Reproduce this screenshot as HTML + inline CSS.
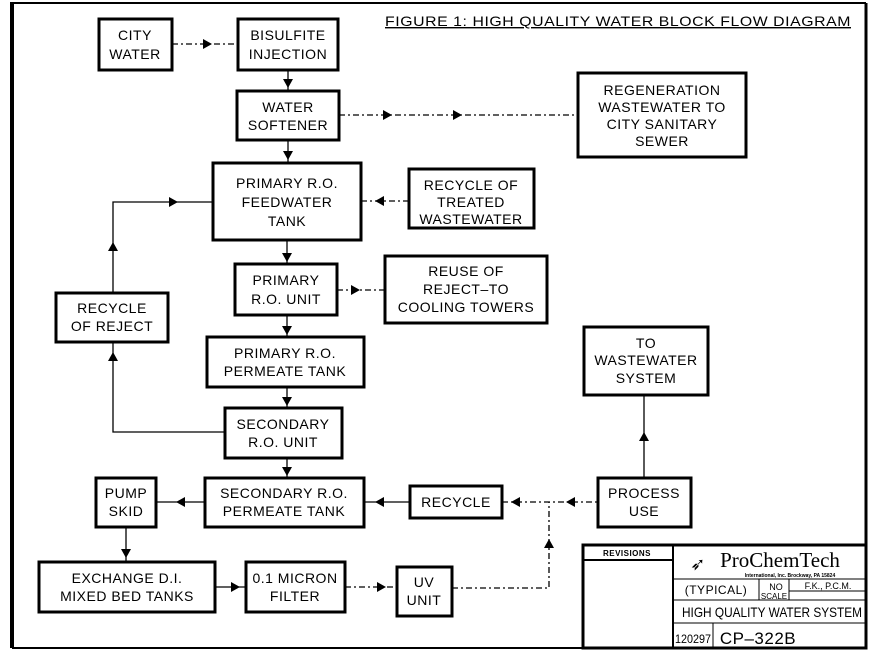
<!DOCTYPE html>
<html><head><style>
body{margin:0;background:#fff}
svg{display:block}
text{font-family:"Liberation Sans",sans-serif;font-size:14px;fill:#000;text-anchor:middle;letter-spacing:0.5px}
.b{fill:#fff;stroke:#000;stroke-width:3}
.l{stroke:#000;stroke-width:1.3;fill:none}
.d{stroke:#000;stroke-width:1.3;fill:none;stroke-dasharray:6 3 2 3}
</style></head><body>
<svg width="871" height="651" viewBox="0 0 871 651">
<defs>
<g id="ar"><polygon points="0,0 -9,-5 -9,5" fill="#000"/></g>
</defs>
<rect x="0" y="0" width="871" height="651" fill="#fff"/>
<line x1="12" y1="2" x2="12" y2="648" stroke="#000" stroke-width="4"/>
<line x1="12" y1="3" x2="866" y2="3" stroke="#000" stroke-width="2"/>
<line x1="866" y1="3" x2="866" y2="648" stroke="#000" stroke-width="3"/>
<line x1="12" y1="648" x2="866" y2="648" stroke="#000" stroke-width="2"/>
<text x="618" y="26" textLength="466" lengthAdjust="spacingAndGlyphs" style="font-size:14px;text-decoration:underline">FIGURE 1: HIGH QUALITY WATER BLOCK FLOW DIAGRAM</text>

<!-- connectors -->
<line class="d" x1="172" y1="44" x2="238" y2="44"/><use href="#ar" x="212" y="44"/>
<line class="l" x1="288" y1="70" x2="288" y2="91"/><use href="#ar" transform="translate(288,88) rotate(90)"/>
<line class="d" x1="339" y1="115" x2="578" y2="115"/><use href="#ar" x="392" y="115"/><use href="#ar" x="462" y="115"/>
<line class="l" x1="288" y1="140" x2="288" y2="163"/><use href="#ar" transform="translate(288,160) rotate(90)"/>
<line class="d" x1="361" y1="201" x2="409" y2="201"/><use href="#ar" transform="translate(375,201) rotate(180)"/>
<line class="l" x1="287" y1="240" x2="287" y2="264"/><use href="#ar" transform="translate(287,262) rotate(90)"/>
<line class="d" x1="337" y1="290" x2="385" y2="290"/><use href="#ar" x="360" y="290"/>
<line class="l" x1="287" y1="315" x2="287" y2="337"/><use href="#ar" transform="translate(287,335) rotate(90)"/>
<line class="l" x1="287" y1="387" x2="287" y2="408"/><use href="#ar" transform="translate(287,406) rotate(90)"/>
<line class="l" x1="287" y1="458" x2="287" y2="478"/><use href="#ar" transform="translate(287,476) rotate(90)"/>
<polyline class="l" points="225,432 113,432 113,342"/><use href="#ar" transform="translate(113,352) rotate(-90)"/>
<polyline class="l" points="113,293 113,202 213,202"/><use href="#ar" transform="translate(113,242) rotate(-90)"/><use href="#ar" x="178" y="202"/>
<line class="l" x1="156" y1="502" x2="205" y2="502"/><use href="#ar" transform="translate(176,502) rotate(180)"/>
<line class="l" x1="364" y1="502" x2="410" y2="502"/><use href="#ar" transform="translate(375,502) rotate(180)"/>
<line class="d" x1="502" y1="502" x2="598" y2="502"/><use href="#ar" transform="translate(511,502) rotate(180)"/><use href="#ar" transform="translate(566,502) rotate(180)"/>
<polyline class="d" points="452,588 549,588 549,502"/><use href="#ar" transform="translate(549,539) rotate(-90)"/>
<line class="l" x1="126" y1="527" x2="126" y2="562"/><use href="#ar" transform="translate(126,558) rotate(90)"/>
<line class="l" x1="215" y1="587" x2="246" y2="587"/><use href="#ar" x="240" y="587"/>
<line class="d" x1="345" y1="587" x2="397" y2="587"/><use href="#ar" x="386" y="587"/>
<line class="l" x1="644" y1="478" x2="644" y2="395"/><use href="#ar" transform="translate(644,432) rotate(-90)"/>

<!-- boxes -->
<rect class="b" x="99" y="19" width="73" height="51"/><text x="135" y="40">CITY</text><text x="135" y="59">WATER</text>
<rect class="b" x="238" y="19" width="100" height="51"/><text x="288" y="40">BISULFITE</text><text x="288" y="59">INJECTION</text>
<rect class="b" x="237" y="91" width="102" height="49"/><text x="288" y="112">WATER</text><text x="288" y="130">SOFTENER</text>
<rect class="b" x="578" y="73" width="168" height="84"/><text x="662" y="95">REGENERATION</text><text x="662" y="112">WASTEWATER TO</text><text x="662" y="129">CITY SANITARY</text><text x="662" y="146">SEWER</text>
<rect class="b" x="213" y="163" width="148" height="77"/><text x="287" y="188">PRIMARY R.O.</text><text x="287" y="207">FEEDWATER</text><text x="287" y="226">TANK</text>
<rect class="b" x="409" y="169" width="125" height="59"/><text x="471" y="190">RECYCLE OF</text><text x="471" y="207">TREATED</text><text x="471" y="224">WASTEWATER</text>
<rect class="b" x="235" y="264" width="102" height="51"/><text x="286" y="285">PRIMARY</text><text x="286" y="304">R.O. UNIT</text>
<rect class="b" x="385" y="256" width="162" height="67"/><text x="466" y="276">REUSE OF</text><text x="466" y="294">REJECT–TO</text><text x="466" y="312">COOLING TOWERS</text>
<rect class="b" x="56" y="293" width="112" height="49"/><text x="112" y="313">RECYCLE</text><text x="112" y="331">OF REJECT</text>
<rect class="b" x="207" y="337" width="157" height="50"/><text x="285" y="358">PRIMARY R.O.</text><text x="285" y="376">PERMEATE TANK</text>
<rect class="b" x="584" y="327" width="124" height="68"/><text x="646" y="348">TO</text><text x="646" y="365">WASTEWATER</text><text x="646" y="383">SYSTEM</text>
<rect class="b" x="225" y="408" width="117" height="50"/><text x="283" y="429">SECONDARY</text><text x="283" y="447">R.O. UNIT</text>
<rect class="b" x="96" y="478" width="60" height="49"/><text x="126" y="498">PUMP</text><text x="126" y="516">SKID</text>
<rect class="b" x="205" y="478" width="159" height="49"/><text x="284" y="498">SECONDARY R.O.</text><text x="284" y="516">PERMEATE TANK</text>
<rect class="b" x="410" y="486" width="92" height="32"/><text x="456" y="507">RECYCLE</text>
<rect class="b" x="598" y="478" width="93" height="49"/><text x="644" y="498">PROCESS</text><text x="644" y="516">USE</text>
<rect class="b" x="39" y="562" width="176" height="50"/><text x="127" y="583">EXCHANGE D.I.</text><text x="127" y="601">MIXED BED TANKS</text>
<rect class="b" x="246" y="562" width="99" height="50"/><text x="295" y="583">0.1 MICRON</text><text x="295" y="601">FILTER</text>
<rect class="b" x="397" y="567" width="55" height="49"/><text x="424" y="587">UV</text><text x="424" y="605">UNIT</text>

<!-- title block -->
<rect x="583" y="545" width="283" height="103" fill="#fff" stroke="#000" stroke-width="3"/>
<line x1="673" y1="545" x2="673" y2="648" stroke="#000" stroke-width="2"/>
<line x1="583" y1="560" x2="673" y2="560" stroke="#000" stroke-width="2"/>
<text x="627" y="556" style="font-size:8px;font-weight:bold">REVISIONS</text>
<text x="780" y="567" style="font-family:'Liberation Serif',serif;font-size:21px;letter-spacing:0">ProChemTech</text>
<text x="698" y="570" style="font-size:18px">➶</text>
<text x="790" y="577" style="font-size:5px;font-weight:bold;letter-spacing:0">International, Inc.    Brockway, PA 15824</text>
<line x1="673" y1="579" x2="866" y2="579" stroke="#000" stroke-width="1"/>
<text x="716" y="594" style="font-size:12px">(TYPICAL)</text>
<line x1="759" y1="579" x2="759" y2="600" stroke="#000" stroke-width="1"/>
<line x1="789" y1="579" x2="789" y2="600" stroke="#000" stroke-width="1"/>
<text x="776" y="590" style="font-size:9px;letter-spacing:0">NO</text><text x="774" y="599" style="font-size:8px;letter-spacing:0">SCALE</text>
<text x="828" y="589" style="font-size:9px;letter-spacing:0">F.K., P.C.M.</text>
<line x1="789" y1="591" x2="866" y2="591" stroke="#000" stroke-width="1"/>
<line x1="673" y1="600" x2="866" y2="600" stroke="#000" stroke-width="1"/>
<text x="772" y="617" textLength="180" lengthAdjust="spacingAndGlyphs" style="font-size:14px;letter-spacing:0">HIGH QUALITY WATER SYSTEM</text>
<line x1="673" y1="623" x2="866" y2="623" stroke="#000" stroke-width="1"/>
<line x1="713" y1="623" x2="713" y2="648" stroke="#000" stroke-width="1"/>
<text x="693" y="643" textLength="36" lengthAdjust="spacingAndGlyphs" style="font-size:12px;letter-spacing:0">120297</text>
<text x="758" y="644" style="font-size:17px">CP–322B</text>
</svg>
</body></html>
